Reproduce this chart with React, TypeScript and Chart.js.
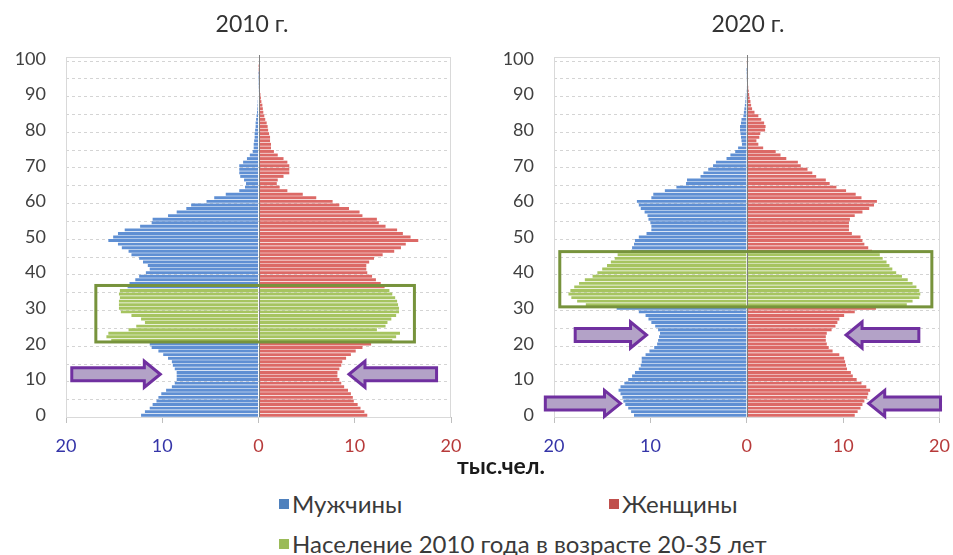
import React, { useEffect, useRef } from "react";
import { Chart, registerables } from "chart.js";

Chart.register(...registerables);

// ---------- DATA ----------
const AGE_LABELS: string[] = Array.from({ length: 101 }, (_, i) => String(i));
const X_MIN = -20;
const X_MAX = 20;
const X_STEP = 10;

// thousand people, by single year of age 0..100
const MALE_2010 = [
  12.2, 11.8, 11.3, 11.0, 10.6, 10.4, 10.1, 9.6, 9.0, 8.7,
  8.5, 8.5, 8.5, 8.7, 8.9, 9.0, 9.4, 9.9, 10.4, 11.1,
  11.3, 15.3, 15.8, 15.6, 13.5, 12.7, 11.8, 12.2, 13.2, 14.3,
  14.5, 14.5, 14.5, 14.4, 14.5, 14.4, 13.6, 13.4, 12.8, 12.4,
  11.7, 11.3, 11.5, 12.0, 12.4, 13.2, 13.5, 14.2, 14.6, 15.6,
  15.1, 14.6, 13.9, 12.3, 11.1, 11.0, 9.4, 8.5, 7.5, 7.0,
  5.4, 4.6, 3.4, 2.0, 1.4, 1.3, 1.5, 1.9, 2.0, 2.0,
  2.0, 1.6, 1.2, 0.9, 0.6, 0.5, 0.5, 0.45, 0.4, 0.4,
  0.35, 0.3, 0.3, 0.25, 0.2, 0.15, 0.12, 0.1, 0.08, 0.06,
  0.05, 0.04, 0.03, 0.02, 0.02, 0.01, 0.01, 0, 0, 0, 0,
];
const FEMALE_2010 = [
  11.3, 11.0, 10.6, 10.3, 9.9, 9.8, 9.6, 9.3, 8.9, 8.6,
  8.4, 8.2, 8.2, 8.4, 8.6, 8.7, 9.1, 9.6, 10.1, 10.8,
  11.7, 13.9, 14.3, 14.7, 12.3, 13.2, 13.4, 13.8, 14.3, 14.6,
  14.6, 14.5, 14.4, 14.2, 13.9, 13.6, 13.1, 12.7, 12.2, 11.8,
  11.3, 11.2, 11.2, 11.5, 12.0, 12.9, 14.1, 14.8, 15.3, 16.6,
  15.8, 15.0, 14.4, 13.2, 12.5, 12.3, 10.8, 10.5, 9.4, 8.4,
  7.7, 6.0, 4.6, 3.0, 2.2, 1.9, 2.0, 2.6, 3.2, 3.2,
  3.2, 3.0, 2.6, 2.0, 1.6, 1.3, 1.3, 1.2, 1.2, 1.1,
  1.0, 0.95, 0.85, 0.7, 0.6, 0.5, 0.45, 0.4, 0.3, 0.25,
  0.2, 0.15, 0.12, 0.1, 0.08, 0.05, 0.03, 0.02, 0.01, 0, 0,
];
const MALE_2020 = [
  11.7, 12.0, 12.3, 12.6, 12.8, 12.9, 13.1, 13.3, 13.1, 12.7,
  12.3, 11.9, 11.6, 11.2, 11.0, 10.9, 10.9, 10.5, 10.1, 9.6,
  9.3, 9.2, 9.1, 9.0, 9.2, 9.5, 9.9, 10.2, 10.5, 11.2,
  13.5, 16.7, 17.6, 18.2, 18.5, 18.3, 17.9, 17.4, 16.8, 16.0,
  15.5, 15.0, 14.5, 14.1, 13.7, 13.4, 12.0, 11.9, 11.7, 11.6,
  11.2, 10.4, 9.9, 9.9, 10.0, 10.2, 10.3, 10.6, 11.0, 11.2,
  11.4, 9.9, 9.7, 8.5, 7.3, 6.3, 6.2, 4.8, 4.5, 4.0,
  3.5, 3.2, 2.1, 1.7, 1.2, 0.9, 0.5, 0.55, 0.6, 0.65,
  0.7, 0.7, 0.6, 0.55, 0.35, 0.3, 0.25, 0.2, 0.15, 0.12,
  0.1, 0.08, 0.06, 0.05, 0.04, 0.03, 0.02, 0.01, 0, 0, 0,
];
const FEMALE_2020 = [
  11.2, 11.5, 11.8, 12.0, 12.2, 12.5, 12.6, 12.8, 12.4, 11.9,
  11.4, 11.0, 10.8, 10.4, 10.3, 10.2, 10.1, 9.6, 8.9, 8.5,
  8.3, 8.2, 8.2, 8.3, 8.8, 9.2, 9.4, 9.6, 10.1, 11.2,
  13.4, 16.6, 17.2, 17.9, 18.0, 17.9, 17.6, 17.2, 16.7, 16.1,
  15.5, 15.1, 14.8, 14.5, 14.1, 13.8, 13.0, 12.6, 12.2, 12.0,
  11.8, 10.9, 10.6, 10.6, 10.6, 10.7, 11.2, 12.0, 12.7, 13.2,
  13.5, 11.9, 11.3, 10.3, 9.3, 8.6, 8.2, 7.2, 6.8, 6.3,
  5.6, 5.3, 4.1, 3.5, 3.0, 1.7, 1.2, 1.0, 1.3, 1.4,
  1.9, 1.95, 1.8, 1.5, 1.2, 0.8, 0.55, 0.45, 0.38, 0.3,
  0.25, 0.2, 0.15, 0.12, 0.1, 0.08, 0.05, 0.03, 0.02, 0.01, 0,
];
// highlighted cohort: ages in 2010 and the same people in 2020
const GREEN_AGES_2010 = [21, 35];
const GREEN_AGES_2020 = [31, 45];

const SERIES_NAMES = ["Мужчины", "Женщины", "Население 2010 года в возрасте 20-35 лет"];
const TITLES = ["2010 г.", "2020 г."];
const X_TITLE = "тыс.чел.";

// ---------- STYLE ----------
const FONT = "Lato, 'Noto Sans', sans-serif";
const BLUE = "#5f8fd3";
const RED = "#dc6966";
const GREEN = "#a6c460";
const LEG_BLUE = "#4f81bd";
const LEG_RED = "#c0504d";
const LEG_GREEN = "#9bbb59";
const TICK_BLUE = "#3535a8";
const TICK_RED = "#b73a3a";
const BOX_COLOR = "#77933c";
const ARROW_FILL = "#b3a2c7";
const ARROW_STROKE = "#7030a0";

type Box = { x0: number; x1: number; y0: number; y1: number };
type Arrow = { tail: number; tip: number; age: number };

function drawArrow(ctx: CanvasRenderingContext2D, xTail: number, xTip: number, y: number) {
  const dir = xTip > xTail ? 1 : -1;
  const head = 16;
  const hh = 13;
  const bh = 6.5;
  const xb = xTip - dir * head;
  ctx.beginPath();
  ctx.moveTo(xTail, y - bh);
  ctx.lineTo(xb, y - bh);
  ctx.lineTo(xb, y - hh);
  ctx.lineTo(xTip, y);
  ctx.lineTo(xb, y + hh);
  ctx.lineTo(xb, y + bh);
  ctx.lineTo(xTail, y + bh);
  ctx.closePath();
  ctx.fillStyle = ARROW_FILL;
  ctx.fill();
  ctx.lineWidth = 3;
  ctx.lineJoin = "miter";
  ctx.strokeStyle = ARROW_STROKE;
  ctx.stroke();
}

const decorPlugin = {
  id: "decor",
  beforeDatasetsDraw(chart: any) {
    const { ctx, chartArea: ca, scales } = chart;
    const y = scales.y;
    ctx.save();
    ctx.strokeStyle = "#d4d4d4";
    ctx.lineWidth = 1;
    ctx.setLineDash([3, 3]);
    for (let i = 5; i <= 100; i += 5) {
      const py = Math.round(y.getPixelForValue(i - 0.5)) + 0.5;
      ctx.beginPath();
      ctx.moveTo(ca.left, py);
      ctx.lineTo(ca.right, py);
      ctx.stroke();
    }
    ctx.setLineDash([]);
    ctx.strokeStyle = "#d9d9d9";
    ctx.strokeRect(Math.round(ca.left) + 0.5, Math.round(ca.top) + 0.5, Math.round(ca.width) - 1, Math.round(ca.height));
    ctx.restore();
  },
  afterDatasetsDraw(chart: any, _args: any, opts: any) {
    const { ctx, chartArea: ca, scales } = chart;
    const x = scales.x;
    const y = scales.y;
    ctx.save();
    const cx = Math.round(x.getPixelForValue(0)) + 0.5;
    ctx.strokeStyle = "#7f7f7f";
    ctx.lineWidth = 1;
    ctx.beginPath();
    ctx.moveTo(cx, ca.top - 2);
    ctx.lineTo(cx, ca.bottom);
    ctx.stroke();
    const b: Box = opts.box;
    if (b) {
      const l = x.getPixelForValue(b.x0);
      const r = x.getPixelForValue(b.x1);
      const t = y.getPixelForValue(b.y1);
      const bt = y.getPixelForValue(b.y0);
      ctx.strokeStyle = BOX_COLOR;
      ctx.lineWidth = 3;
      ctx.strokeRect(l, t, r - l, bt - t);
    }
    const arrows: Arrow[] = opts.arrows || [];
    for (const a of arrows) {
      drawArrow(ctx, x.getPixelForValue(a.tail), x.getPixelForValue(a.tip), y.getPixelForValue(a.age));
    }
    ctx.restore();
  },
};

type PyramidProps = {
  male: number[];
  female: number[];
  green: number[];
  box: Box;
  arrows: Arrow[];
  left: number;
  width: number;
  yAxisWidth: number;
  padRight: number;
};

const CANVAS_H = 470;

function Pyramid(props: PyramidProps) {
  const ref = useRef<HTMLCanvasElement | null>(null);
  useEffect(() => {
    if (!ref.current) return;
    const { male, female, green } = props;
    const inGreen = (i: number) => i >= green[0] && i <= green[1];
    const common = {
      barPercentage: 0.82,
      categoryPercentage: 1.0,
      borderWidth: 0,
      stack: "pop",
    };
    const chart = new Chart(ref.current, {
      type: "bar",
      data: {
        labels: AGE_LABELS,
        datasets: [
          { label: SERIES_NAMES[0], data: male.map((v, i) => (inGreen(i) ? null : -v)), backgroundColor: BLUE, ...common },
          { label: SERIES_NAMES[1], data: female.map((v, i) => (inGreen(i) ? null : v)), backgroundColor: RED, ...common },
          { label: SERIES_NAMES[2], data: male.map((v, i) => (inGreen(i) ? -v : null)), backgroundColor: GREEN, ...common },
          { label: SERIES_NAMES[2] + " ", data: female.map((v, i) => (inGreen(i) ? v : null)), backgroundColor: GREEN, ...common },
        ] as any,
      },
      options: {
        indexAxis: "y",
        responsive: false,
        animation: false,
        devicePixelRatio: 1,
        layout: { padding: { left: 0, right: props.padRight, top: 57, bottom: 8 } },
        plugins: {
          legend: { display: false },
          tooltip: { enabled: false },
          title: { display: false },
          decor: { box: props.box, arrows: props.arrows },
        } as any,
        scales: {
          x: {
            type: "linear",
            min: X_MIN,
            max: X_MAX,
            stacked: true,
            afterFit: (s: any) => {
              s.height = 45;
            },
            border: { display: true, color: "#bfbfbf", width: 1 },
            grid: {
              drawOnChartArea: false,
              drawTicks: true,
              tickLength: 6,
              tickColor: "#bfbfbf",
              color: "#bfbfbf",
            },
            ticks: {
              stepSize: X_STEP,
              padding: 12,
              font: { family: FONT, size: 18 },
              color: (c: any) => (c.tick && c.tick.value < 0 ? TICK_BLUE : TICK_RED),
              callback: (v: any) => String(Math.abs(Number(v))),
            },
          },
          y: {
            type: "category",
            reverse: true,
            stacked: true,
            afterFit: (s: any) => {
              s.width = props.yAxisWidth;
            },
            border: { display: false },
            grid: { display: false, drawTicks: false },
            ticks: {
              autoSkip: false,
              padding: 20,
              font: { family: FONT, size: 18 },
              color: "#404040",
              callback: (_v: any, idx: number) => (idx % 10 === 0 ? AGE_LABELS[idx] : ""),
            },
          },
        } as any,
      },
      plugins: [decorPlugin as any],
    });
    return () => chart.destroy();
  }, []);
  return (
    <canvas
      ref={ref}
      width={props.width}
      height={CANVAS_H}
      style={{ position: "absolute", left: props.left, top: 0, width: props.width, height: CANVAS_H }}
    />
  );
}

const textBase: React.CSSProperties = {
  position: "absolute",
  fontFamily: FONT,
  color: "#333",
  whiteSpace: "nowrap",
  lineHeight: 1,
};

function LegendItem({ color, text, left, top }: { color: string; text: string; left: number; top: number }) {
  return (
    <div style={{ ...textBase, left, top, fontSize: 24, color: "#3a3a3a", display: "flex", alignItems: "center" }}>
      <span style={{ display: "inline-block", width: 10, height: 10, background: color, marginRight: 3 }} />
      <span>{text}</span>
    </div>
  );
}

export default function App() {
  return (
    <div style={{ position: "absolute", left: 0, top: 0, width: 953, height: 555, background: "#fff", overflow: "hidden" }}>
      <Pyramid
        male={MALE_2010}
        female={FEMALE_2010}
        green={GREEN_AGES_2010}
        box={{ x0: -16.9, x1: 16.2, y0: 20.55, y1: 36.4 }}
        arrows={[
          { tail: -19.4, tip: -10.2, age: 11.5 },
          { tail: 18.5, tip: 9.4, age: 11.5 },
        ]}
        left={0}
        width={476}
        yAxisWidth={66}
        padRight={25}
      />
      <Pyramid
        male={MALE_2020}
        female={FEMALE_2020}
        green={GREEN_AGES_2020}
        box={{ x0: -19.4, x1: 19.2, y0: 30.4, y1: 45.9 }}
        arrows={[
          { tail: -17.8, tip: -10.4, age: 22.5 },
          { tail: 17.85, tip: 10.3, age: 22.5 },
          { tail: -20.9, tip: -13.1, age: 3.3 },
          { tail: 20.1, tip: 12.65, age: 3.3 },
        ]}
        left={476}
        width={486}
        yAxisWidth={78}
        padRight={0}
      />
      <div style={{ ...textBase, left: 252, top: 12, fontSize: 23, transform: "translateX(-50%)" }}>{TITLES[0]}</div>
      <div style={{ ...textBase, left: 748, top: 12, fontSize: 23, transform: "translateX(-50%)" }}>{TITLES[1]}</div>
      <div style={{ ...textBase, left: 501, top: 454, fontSize: 23, fontWeight: 700, color: "#1a1a1a", transform: "translateX(-50%)" }}>
        {X_TITLE}
      </div>
      <LegendItem color={LEG_BLUE} text={SERIES_NAMES[0]} left={279} top={492} />
      <LegendItem color={LEG_RED} text={SERIES_NAMES[1]} left={609} top={492} />
      <LegendItem color={LEG_GREEN} text={SERIES_NAMES[2]} left={279} top={532} />
    </div>
  );
}
